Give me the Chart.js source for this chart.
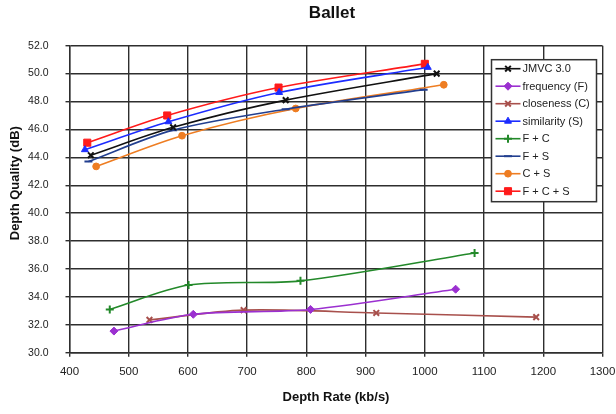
<!DOCTYPE html>
<html>
<head>
<meta charset="utf-8">
<script src="https://cdn.jsdelivr.net/npm/chart.js@4.4.1/dist/chart.umd.min.js"></script>
<style>
  html, body { margin: 0; padding: 0; background: #fff; }
  #wrap { position: relative; width: 616px; height: 414px; }
</style>
</head>
<body>
<div id="wrap"><canvas id="ballet"></canvas></div>
<script>
// Ballet: depth quality (dB) against depth rate (kb/s) for each coding mode
var xTicks = [400, 500, 600, 700, 800, 900, 1000, 1100, 1200, 1300];
var yTicks = [30, 32, 34, 36, 38, 40, 42, 44, 46, 48, 50, 52];

var seriesNames = ['JMVC 3.0', 'frequency (F)', 'closeness (C)', 'similarity (S)',
                   'F + C', 'F + S', 'C + S', 'F + C + S'];

var jmvcRate  = [436, 575, 765, 1020];
var jmvcDq    = [44.15, 46.15, 48.1, 50.0];
var freqRate  = [475, 609, 807, 1052];
var freqDq    = [31.55, 32.75, 33.1, 34.55];
var closeRate = [535, 694, 918, 1188];
var closeDq   = [32.35, 33.05, 32.85, 32.55];
var simRate   = [426, 567, 754, 1005];
var simDq     = [44.55, 46.55, 48.65, 50.45];
var fcRate    = [468, 601, 790, 1084];
var fcDq      = [33.1, 34.85, 35.15, 37.15];
var fsRate    = [432, 575, 765, 998];
var fsDq      = [43.7, 45.95, 47.45, 48.85];
var csRate    = [445, 590, 782, 1032];
var csDq      = [43.35, 45.55, 47.5, 49.2];
var fcsRate   = [430, 565, 753, 1000];
var fcsDq     = [45.05, 47.0, 49.0, 50.7];

function pts(xs, ys) {
  return xs.map(function(x, i){ return {x: x, y: ys[i]}; });
}

function series(i, xs, ys, color, style, radius) {
  return {
    label: seriesNames[i],
    data: pts(xs, ys),
    borderColor: color,
    backgroundColor: color,
    borderWidth: 1.6,
    pointStyle: style,
    pointRadius: radius,
    pointBorderWidth: (style === 'crossRot' || style === 'cross' || style === 'line') ? 2 : 1,
    tension: 0.3,
    fill: false
  };
}

var datasets = [
  series(0, jmvcRate,  jmvcDq,  '#111111', 'crossRot', 4),
  series(1, freqRate,  freqDq,  '#9b30d0', 'rectRot', 4),
  series(2, closeRate, closeDq, '#a8504c', 'crossRot', 4),
  series(3, simRate,   simDq,   '#1c2cff', 'triangle', 4),
  series(4, fcRate,    fcDq,    '#23892a', 'cross', 4),
  series(5, fsRate,    fsDq,    '#223f8f', 'line', 4),
  series(6, csRate,    csDq,    '#ee7d22', 'circle', 3.4),
  series(7, fcsRate,   fcsDq,   '#ff1a1a', 'rect', 5)
];

var FONT = '"Liberation Sans", Arial, sans-serif';

// Title over the plot area and the rotated y-axis label
var captions = {
  id: 'captions',
  afterDraw: function(chart) {
    var ctx = chart.ctx, area = chart.chartArea;
    ctx.save();
    ctx.fillStyle = '#111';
    ctx.textAlign = 'center';
    ctx.textBaseline = 'middle';
    ctx.font = 'bold 17px ' + FONT;
    ctx.fillText('Ballet', (area.left + area.right) / 2 - 4, 13);
    ctx.translate(15, (area.top + area.bottom) / 2 - 16);
    ctx.rotate(-Math.PI / 2);
    ctx.font = 'bold 13px ' + FONT;
    ctx.fillText('Depth Quality (dB)', 0, 0);
    ctx.restore();
  }
};

// Boxed legend sitting inside the top-right of the plot
var legendBox = {
  id: 'legendBox',
  afterDraw: function(chart) {
    var ctx = chart.ctx, area = chart.chartArea;
    var sets = chart.data.datasets;
    var left = area.right - 111, top = area.top + 14;
    var w = 105, rowH = 17.5, h = sets.length * rowH + 2;
    ctx.save();
    ctx.fillStyle = '#fff';
    ctx.fillRect(left, top, w, h);
    ctx.strokeStyle = '#333';
    ctx.lineWidth = 1.5;
    ctx.strokeRect(left, top, w, h);
    ctx.font = '11px ' + FONT;
    ctx.textBaseline = 'middle';
    ctx.textAlign = 'left';
    sets.forEach(function(ds, i){
      var cy = top + 9 + i * rowH;
      ctx.strokeStyle = ds.borderColor;
      ctx.fillStyle = ds.backgroundColor;
      ctx.lineWidth = ds.borderWidth;
      ctx.beginPath();
      ctx.moveTo(left + 4, cy);
      ctx.lineTo(left + 29, cy);
      ctx.stroke();
      ctx.lineWidth = ds.pointBorderWidth;
      Chart.helpers.drawPoint(ctx, {
        pointStyle: ds.pointStyle,
        radius: ds.pointRadius,
        rotation: 0,
        borderWidth: ds.pointBorderWidth
      }, left + 16.5, cy);
      ctx.fillStyle = '#222';
      ctx.fillText(ds.label, left + 31, cy + 0.5);
    });
    ctx.restore();
  }
};

var gridStyle = { color: '#2e2e2e', lineWidth: 1.4, tickLength: 4, tickColor: '#2e2e2e' };

new Chart(document.getElementById('ballet'), {
  type: 'line',
  data: { datasets: datasets },
  plugins: [captions, legendBox],
  options: {
    responsive: true,
    maintainAspectRatio: false,
    animation: false,
    layout: { padding: { top: 45.7, right: 13.5, bottom: 0, left: 0 } },
    plugins: {
      legend: { display: false },
      tooltip: { enabled: false },
      title: { display: false }
    },
    scales: {
      x: {
        type: 'linear',
        min: 400,
        max: 1300,
        afterBuildTicks: function(axis){ axis.ticks = xTicks.map(function(v){ return {value: v}; }); },
        afterFit: function(axis){
          axis.height = 61.3;
          // let the end labels hang past the plot edges instead of shrinking it
          axis.paddingLeft = 0;
          axis.paddingRight = 0;
        },
        grid: gridStyle,
        border: { display: true, color: '#2e2e2e', width: 1.4 },
        ticks: {
          color: '#222',
          font: { size: 11.5, family: FONT },
          padding: 8,
          maxRotation: 0,
          callback: function(v){ return String(v); }
        },
        title: {
          display: true,
          text: 'Depth Rate (kb/s)',
          color: '#111',
          font: { size: 13, weight: 'bold', family: FONT },
          padding: { top: 0, bottom: 9 }
        }
      },
      y: {
        min: 30,
        max: 52,
        afterBuildTicks: function(axis){ axis.ticks = yTicks.map(function(v){ return {value: v}; }); },
        afterFit: function(axis){ axis.width = 69.5; },
        grid: gridStyle,
        border: { display: true, color: '#2e2e2e', width: 1.4 },
        ticks: {
          color: '#222',
          font: { size: 10.5, family: FONT },
          padding: 17,
          callback: function(v){ return v.toFixed(1); }
        }
      }
    }
  }
});
</script>
</body>
</html>
